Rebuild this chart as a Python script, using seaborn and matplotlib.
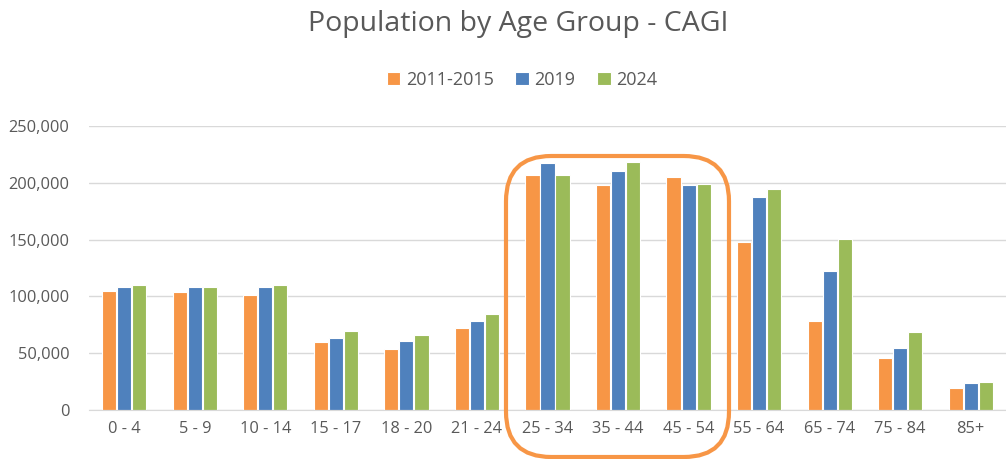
import matplotlib
matplotlib.use("Agg")
import matplotlib.pyplot as plt
import seaborn as sns
import pandas as pd
from matplotlib.patches import FancyBboxPatch
from matplotlib.ticker import FuncFormatter

age_groups = ["0 - 4", "5 - 9", "10 - 14", "15 - 17", "18 - 20", "21 - 24", "25 - 34",
              "35 - 44", "45 - 54", "55 - 64", "65 - 74", "75 - 84", "85+"]
series_names = ["2011-2015", "2019", "2024"]
pop_2011_2015 = [104900, 103700, 101000, 59600, 53500, 72300, 206500, 197700, 205000, 147500, 78700, 46100, 19700]
pop_2019 = [108700, 108700, 108700, 63700, 61100, 78700, 217700, 210300, 197700, 187700, 122500, 54600, 23500]
pop_2024 = [109900, 108700, 109900, 69900, 65800, 84900, 206500, 218000, 199200, 194200, 150100, 68700, 24700]
colors = ["#F79646", "#4F81BD", "#9BBB59"]

rows = []
for name, vals in zip(series_names, [pop_2011_2015, pop_2019, pop_2024]):
    for g, v in zip(age_groups, vals):
        rows.append({"Age": g, "Series": name, "Population": v})
df = pd.DataFrame(rows)

sns.set_style("white")
plt.rcParams['font.family'] = ['Open Sans', 'DejaVu Sans']

fig = plt.figure(figsize=(10.06, 4.59), dpi=100)
ax = fig.add_axes([89/1006, 49/459, 1 - 89/1006, (410-126)/459])

sns.barplot(data=df, x="Age", y="Population", hue="Series", order=age_groups,
            hue_order=series_names, palette=colors, width=0.64, gap=0.06,
            edgecolor="white", linewidth=0.8, saturation=1, ax=ax, legend=True)

ax.set_ylim(0, 250000)
ax.set_xlim(-0.5, len(age_groups) - 0.5)
ax.set_yticks(range(0, 250001, 50000))
ax.yaxis.set_major_formatter(FuncFormatter(lambda v, p: f"{int(v):,}"))
ax.grid(axis="y", color="#D9D9D9", linewidth=1)
ax.set_axisbelow(True)
for s in ["top", "right", "left"]:
    ax.spines[s].set_visible(False)
ax.spines["bottom"].set_color("#D9D9D9")
ax.tick_params(axis="both", length=0, colors="#595959", labelsize=11.8)
ax.tick_params(axis="x", pad=8)
ax.tick_params(axis="y", pad=14)
ax.set_xlabel("")
ax.set_ylabel("")

leg = ax.get_legend()
handles, labels = ax.get_legend_handles_labels()
leg.remove()
fig.legend(handles, labels, loc="center", bbox_to_anchor=(522/1006, 1 - 80/459), ncol=3,
           frameon=False, fontsize=13, labelcolor="#595959", handlelength=0.75,
           handleheight=0.75, handletextpad=0.3, columnspacing=1.2)

fig.text(518/1006, 1 - 24/459, "Population by Age Group - CAGI", ha="center", va="center",
         fontsize=20.5, color="#595959")

box = FancyBboxPatch((506/1006, 2/459), (729-506)/1006, (301)/459,
                     boxstyle="round,pad=0,rounding_size=0.045", transform=fig.transFigure,
                     fill=False, edgecolor="#F79646", linewidth=3, clip_on=False,
                     mutation_aspect=1006/459)
fig.patches.append(box)

fig.savefig("out.png", dpi=100)
